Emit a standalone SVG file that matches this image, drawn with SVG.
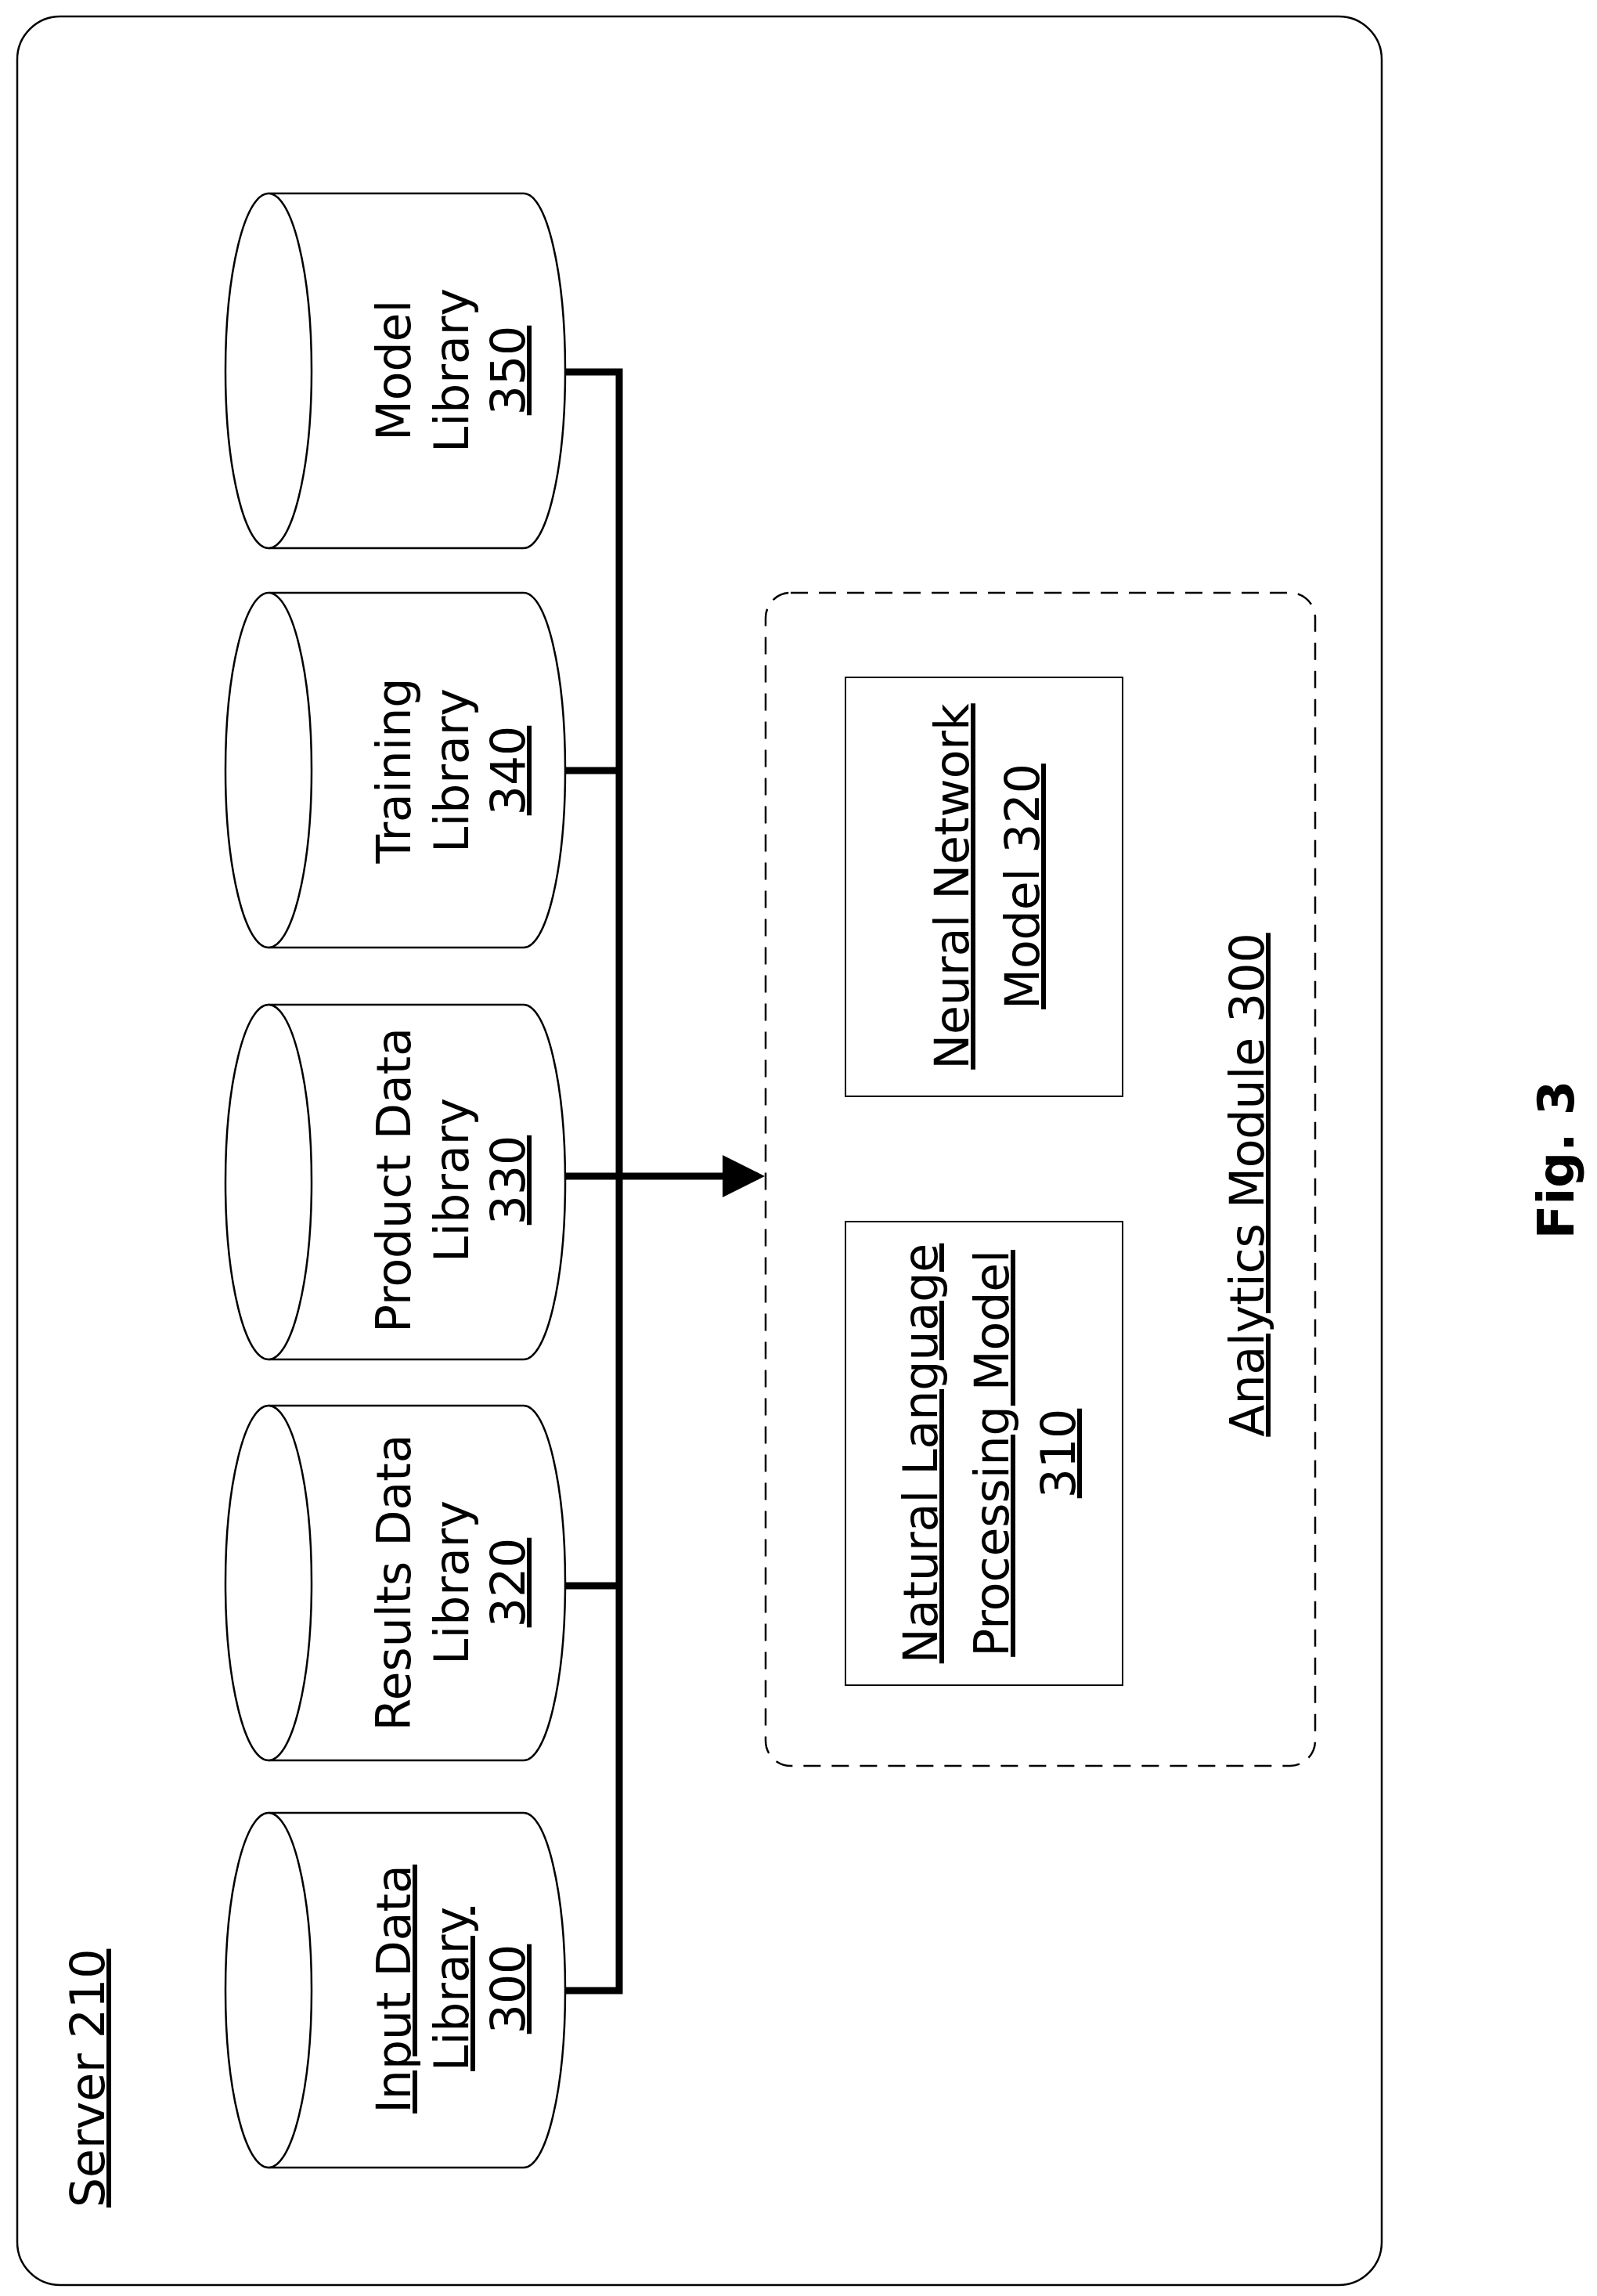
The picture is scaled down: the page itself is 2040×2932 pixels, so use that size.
<svg xmlns="http://www.w3.org/2000/svg" width="2040" height="2932" viewBox="0 0 2040 2932">
<style>
text{font-family:"DejaVu Sans","Open Sans",sans-serif;font-size:60px;fill:#000;text-anchor:middle}
.u{text-decoration:underline}
.cyl{fill:#fff;stroke:#000;stroke-width:2.5}
.bus{stroke:#000;stroke-width:9;fill:none}
</style>
<defs>
<marker id="ah" markerWidth="6" markerHeight="6" refX="5" refY="3" orient="auto" markerUnits="strokeWidth"><path d="M0,0 L6,3 L0,6 z" fill="#000"/></marker>
</defs>
<rect width="2040" height="2932" fill="#fff"/>
<g id="server"><rect x="22" y="21" width="1743" height="2897" rx="55" fill="none" stroke="#000" stroke-width="2.5"/>
<text class="u" style="text-anchor:start" transform="translate(133,2819) rotate(-90)">Server 210</text></g>
<g id="connectors">
<path class="bus" d="M722,475 H791 V2542 H722 M722,984 H791 M722,2025 H791"/>
<path class="bus" d="M722,1502 H968" marker-end="url(#ah)"/>
</g>
<g id="model350"><path class="cyl" d="M343,247 H669 A53,226.5 0 0 1 669,700 H343 A55,226.5 0 0 1 343,247 Z"/><path class="cyl" d="M343,247 A55,226.5 0 0 1 343,700" fill="none"/>
<text transform="translate(524,473) rotate(-90)">Model</text><text transform="translate(598,473) rotate(-90)">Library</text><text class="u" transform="translate(670,473) rotate(-90)">350</text></g>
<g id="training340"><path class="cyl" d="M343,757 H669 A53,226.5 0 0 1 669,1210 H343 A55,226.5 0 0 1 343,757 Z"/><path class="cyl" d="M343,757 A55,226.5 0 0 1 343,1210" fill="none"/>
<text transform="translate(524,984) rotate(-90)">Training</text><text transform="translate(598,984) rotate(-90)">Library</text><text class="u" transform="translate(670,984) rotate(-90)">340</text></g>
<g id="product330"><path class="cyl" d="M343,1283 H669 A53,226.5 0 0 1 669,1736 H343 A55,226.5 0 0 1 343,1283 Z"/><path class="cyl" d="M343,1283 A55,226.5 0 0 1 343,1736" fill="none"/>
<text transform="translate(524,1507) rotate(-90)">Product Data</text><text transform="translate(598,1507) rotate(-90)">Library</text><text class="u" transform="translate(670,1507) rotate(-90)">330</text></g>
<g id="results320"><path class="cyl" d="M343,1795 H669 A53,226.5 0 0 1 669,2248 H343 A55,226.5 0 0 1 343,1795 Z"/><path class="cyl" d="M343,1795 A55,226.5 0 0 1 343,2248" fill="none"/>
<text transform="translate(524,2021) rotate(-90)">Results Data</text><text transform="translate(598,2021) rotate(-90)">Library</text><text class="u" transform="translate(670,2021) rotate(-90)">320</text></g>
<g id="input300"><path class="cyl" d="M343,2315 H669 A53,226.5 0 0 1 669,2768 H343 A55,226.5 0 0 1 343,2315 Z"/><path class="cyl" d="M343,2315 A55,226.5 0 0 1 343,2768" fill="none"/>
<text class="u" transform="translate(524,2540) rotate(-90)">Input Data</text><text class="u" transform="translate(598,2540) rotate(-90)">Library</text><text class="u" transform="translate(670,2540) rotate(-90)">300</text></g>
<g id="analytics300"><rect x="978" y="757" width="702" height="1498" rx="32" fill="none" stroke="#000" stroke-width="2.5" stroke-dasharray="22,14"/>
<text class="u" transform="translate(1614,1513) rotate(-90)">Analytics Module 300</text></g>
<g id="nn320"><rect x="1080" y="865" width="354" height="535" fill="none" stroke="#000" stroke-width="2"/>
<text class="u" transform="translate(1237,1132) rotate(-90)">Neural Network</text><text class="u" transform="translate(1327,1132) rotate(-90)">Model 320</text></g>
<g id="nlp310"><rect x="1080" y="1560" width="354" height="592" fill="none" stroke="#000" stroke-width="2"/>
<text class="u" transform="translate(1197,1856) rotate(-90)">Natural Language</text><text class="u" transform="translate(1288,1856) rotate(-90)">Processing Model</text><text class="u" transform="translate(1373,1856) rotate(-90)">310</text></g>
<g id="fig"><text transform="translate(2010,1481) rotate(-90)" style="font-weight:bold;font-size:64px">Fig. 3</text></g>
</svg>
